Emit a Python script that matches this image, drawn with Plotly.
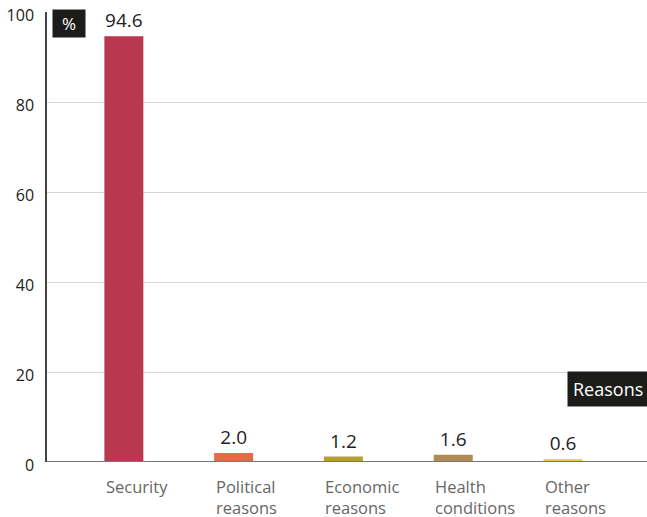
import plotly.graph_objects as go

categories = ["Security", "Political<br>reasons", "Economic<br>reasons", "Health<br>conditions", "Other<br>reasons"]
values = [94.6, 2.0, 1.2, 1.6, 0.6]
value_labels = ["94.6", "2.0", "1.2", "1.6", "0.6"]
colors = ["#b9374f", "#df6e47", "#b9a21f", "#b08b52", "#e3c94a"]
y_ticks = [0, 20, 40, 60, 80, 100]

xpos = list(range(len(categories)))
FONT = "Open Sans"

W, H = 647, 517
ml, mr, mt, mb = 47, 0, 12, 55
pw, ph = W - ml - mr, H - mt - mb

def px_to_paper_x(px):
    return (px - ml) / pw

def px_to_paper_y(py):
    return (H - mb - py) / ph

fig = go.Figure()
fig.add_trace(go.Bar(
    x=xpos, y=values, marker=dict(color=colors, line=dict(width=0)),
    width=0.355, text=value_labels, textposition="outside",
    textfont=dict(family=FONT, size=19, color="#222222"),
    cliponaxis=False, hoverinfo="skip",
))

for i, c in enumerate(categories):
    fig.add_annotation(x=i, xref="x", y=0, yref="paper", yanchor="top", xanchor="left",
                       xshift=-19, yshift=-12, text=c, showarrow=False, align="left",
                       borderpad=0,
                       font=dict(family=FONT, size=16.5, color="#666666"))

fig.add_annotation(x=px_to_paper_x(52), y=px_to_paper_y(9), xref="paper", yref="paper",
                   xanchor="left", yanchor="top", text="%", showarrow=False,
                   bgcolor="#1c1c1a", borderpad=4, width=24, height=19,
                   font=dict(family=FONT, size=17, color="white"))
fig.add_annotation(x=1.0, y=px_to_paper_y(371), xref="paper", yref="paper",
                   xanchor="right", yanchor="top", text="Reasons", showarrow=False,
                   bgcolor="#1c1c1a", borderpad=5, xshift=2,
                   font=dict(family=FONT, size=18, color="white"))

fig.update_layout(
    width=W, height=H, margin=dict(l=ml, r=mr, t=mt, b=mb),
    paper_bgcolor="white", plot_bgcolor="white", showlegend=False,
    xaxis=dict(range=[-0.70, 4.765], showticklabels=False, showgrid=False, zeroline=False,
               showline=False, fixedrange=True),
    yaxis=dict(range=[0, 100], tickvals=y_ticks, showgrid=True, gridcolor="#d9d9d9", gridwidth=1,
               zeroline=False, showline=True, linecolor="#444444", linewidth=1.5,
               ticks="", ticklabelstandoff=8, ticklabelshift=3, ticklabeloverflow="allow",
               fixedrange=True,
               tickfont=dict(family=FONT, size=16, color="#222222")),
    shapes=[dict(type="line", xref="paper", yref="y", x0=0, x1=1, y0=0, y1=0,
                 line=dict(color="#777777", width=2))],
)

fig.write_html("out.html", config={"displayModeBar": False},
               post_script="document.body.style.margin='0';document.body.style.padding='0';")
